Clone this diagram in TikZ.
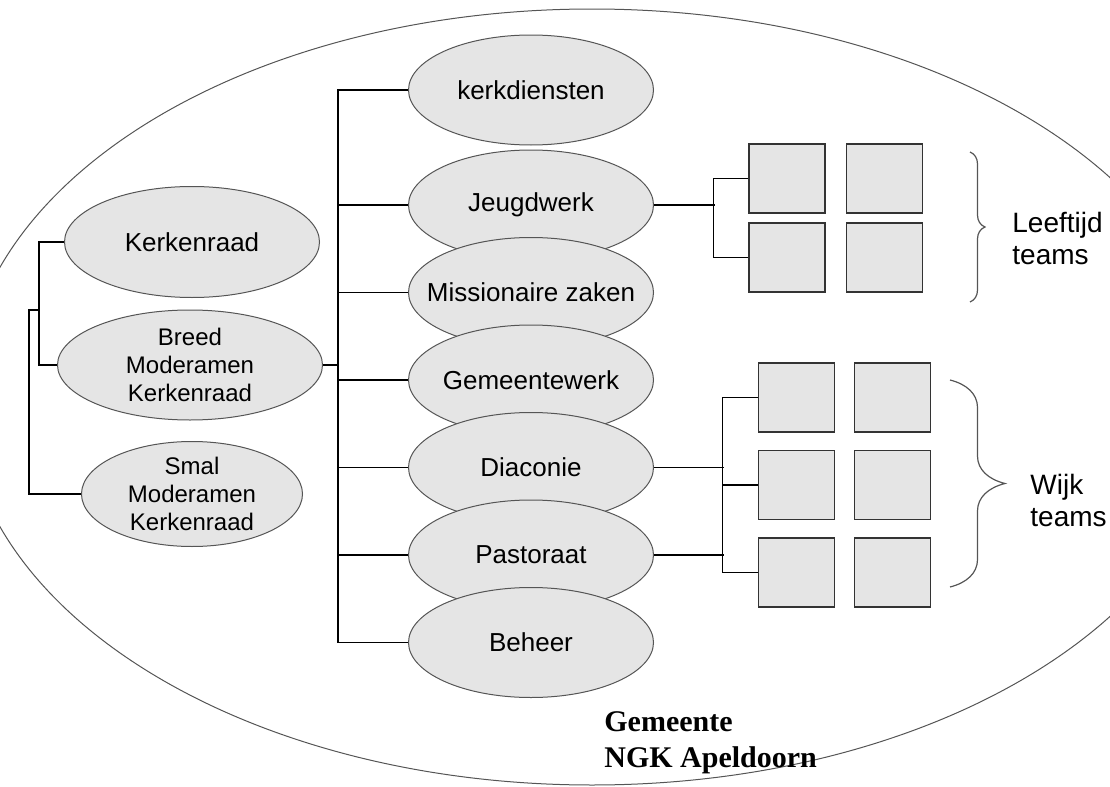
\documentclass[tikz,border=0pt]{standalone}
\usepackage{fontspec}
\setmainfont{Liberation Sans}
\newfontfamily\serifbold{Liberation Serif}
\usetikzlibrary{shapes.geometric,decorations.pathreplacing}
\definecolor{cellfill}{RGB}{229,229,229}
\definecolor{rim}{RGB}{85,85,85}
\begin{document}
\begin{tikzpicture}[x=0.5pt, y=-0.5pt, node distance=43.75pt,
    ell/.style={ellipse, draw=rim, fill=cellfill, line width=0.5pt, inner sep=0pt,
      minimum width=122.5pt, minimum height=55pt, font=\fontsize{13}{15}\selectfont},
    board/.style={ell, align=center, font=\fontsize{12}{14}\selectfont},
    team/.style={rectangle, draw=black!80, fill=cellfill, line width=0.7pt, inner sep=0pt,
      minimum width=38pt, minimum height=34.5pt},
    link/.style={line width=0.6pt},
    curly/.style={draw=rim, line width=0.6pt, decorate},
    tag/.style={anchor=west, align=left, inner sep=0pt, font=\fontsize{14}{16}\selectfont}]
	\useasboundingbox (0,0) rectangle (1110,787);
	\clip (0,0) rectangle (1110,787);
	\draw[rim, line width=0.5pt] (592,397) ellipse [x radius=314pt, y radius=194pt];

	\node(kerkr) [ell, minimum width=127.5pt, minimum height=55.5pt] at (192,242) {Kerkenraad};
	\node(breed) [board, minimum width=132.5pt] at (190,365) {Breed\\Moderamen\\Kerkenraad};
	\node(smal) [board, minimum width=110.5pt, minimum height=52.5pt] at (192,494) {Smal\\Moderamen\\Kerkenraad};

	\node(kerk) [ell] at (531,90) {kerkdiensten};
	\node(jeugd) [ell, below of=kerk, node distance=57.5pt] {Jeugdwerk};
	\node(miss) [ell, below of=jeugd] {\makebox[0pt]{Missionaire zaken}};
	\node(gem) [ell, below of=miss] {\makebox[0pt]{Gemeentewerk}};
	\node(diac) [ell, below of=gem] {Diaconie};
	\node(past) [ell, below of=diac] {Pastoraat};
	\node(beheer) [ell, below of=past] {Beheer};

	\node(la1) [team] at (787,178.5) {};
	\node(lb1) [team, right of=la1, node distance=48.75pt] {};
	\node(la2) [team, below of=la1, node distance=39.5pt] {};
	\node(lb2) [team, right of=la2, node distance=48.75pt] {};

	\node(wa1) [team] at (796.5,397.5) {};
	\node(wb1) [team, right of=wa1, node distance=48pt] {};
	\node(wa2) [team, below of=wa1] {};
	\node(wb2) [team, right of=wa2, node distance=48pt] {};
	\node(wa3) [team, below of=wa2] {};
	\node(wb3) [team, right of=wa3, node distance=48pt] {};

	\node(leeft) [tag] at (1012,238) {Leeftijd\\teams};
	\node(wijk) [tag] at (1030,500) {Wijk\\teams};
	\node(ngk) [anchor=north west, inner sep=0pt, align=left,
	  font=\serifbold\bfseries\fontsize{15}{18}\selectfont] at (604,711) {Gemeente\\NGK Apeldoorn};

	\coordinate (lmid) at (40,310);
	\draw[link] (kerkr.west) -- ++(-25,0) |- (breed.west);
	\draw[link] (smal.west) -- ++(-52,0) |- (lmid);

	\draw[link] (breed.east) -- ++(16,0);
	\draw[link] (kerk.west) -- ++(-70,0) |- (beheer.west);
	\foreach \n in {jeugd,miss,gem,diac,past}
	  \draw[link] (\n.west) -- ++(-70,0);

	\draw[link] (jeugd.east) -- ++(61,0);
	\draw[link] (la1.west) -- ++(-35,0) |- (la2.west);

	\draw[link] (diac.east) -- ++(70,0);
	\draw[link] (past.east) -- ++(70,0);
	\draw[link] (wa1.west) -- ++(-35,0) |- (wa3.west);
	\draw[link] (wa2.west) -- ++(-35,0);

	\draw[curly, decoration={brace, amplitude=6pt, transform={yscale=1.25}}] (970,152) -- (970,302);
	\draw[curly, decoration={brace, amplitude=13.75pt, transform={yscale=2}}] (950,380) -- (950,587);
\end{tikzpicture}
\end{document}
